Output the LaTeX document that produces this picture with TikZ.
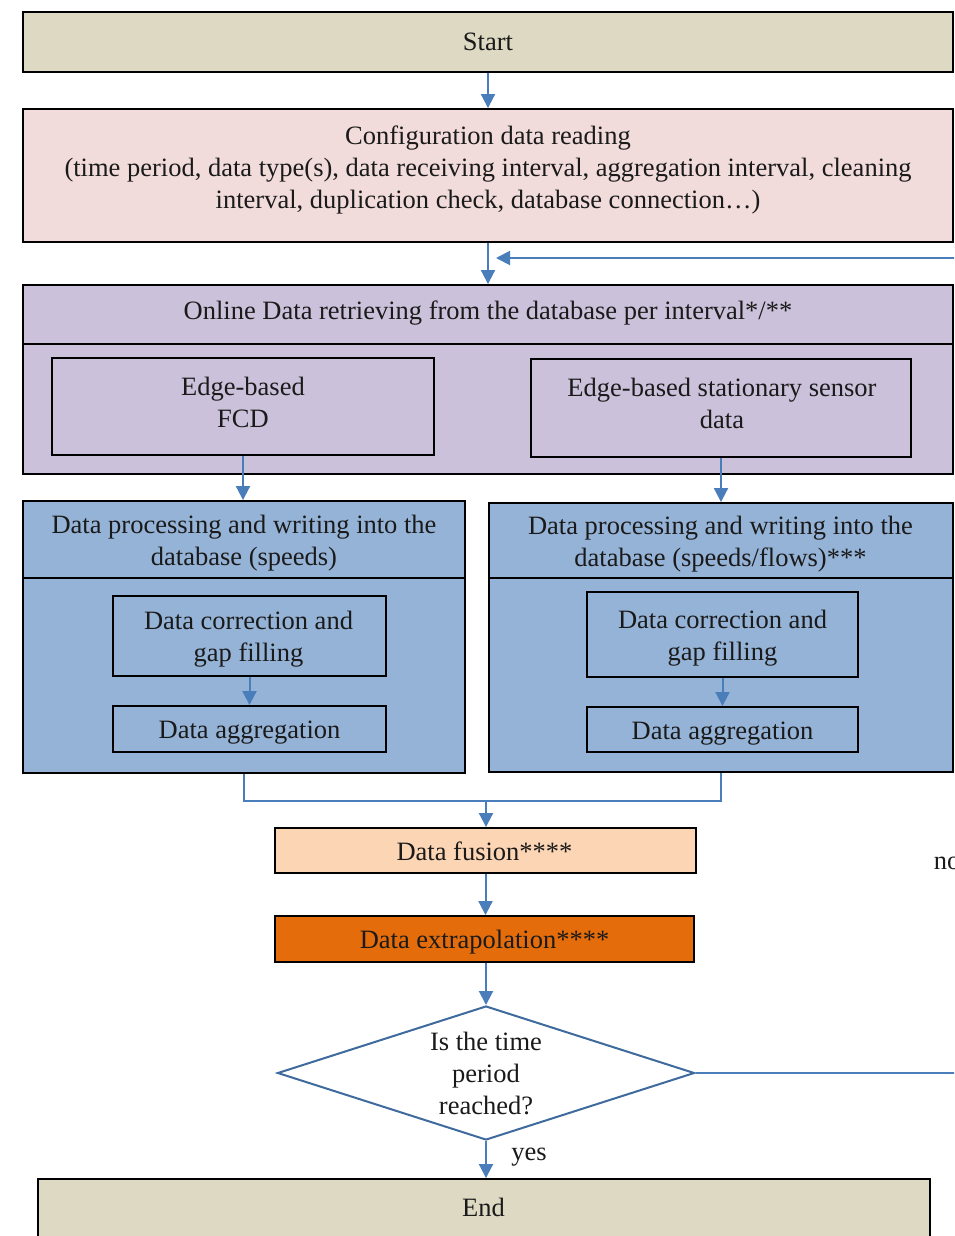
\documentclass[tikz,border=0pt]{standalone}
\usepackage{fontspec}
\setmainfont{Liberation Serif}
\usetikzlibrary{arrows.meta,shapes.geometric}
\definecolor{tanfill}{HTML}{DDD9C3}
\definecolor{pinkfill}{HTML}{F2DCDB}
\definecolor{lilacfill}{HTML}{CCC1DA}
\definecolor{bluefill}{HTML}{95B3D7}
\definecolor{peachfill}{HTML}{FCD5B4}
\definecolor{orangefill}{HTML}{E46C0A}
\definecolor{arrowblue}{HTML}{4A7EBB}
\definecolor{diablue}{HTML}{3E6A9E}
\definecolor{txt}{HTML}{1A1A1A}
\tikzset{
  box/.style={draw=black, line width=1.9pt, rectangle, inner sep=0pt},
  arr/.style={draw=arrowblue, line width=2pt, -{Triangle[width=14pt,length=14pt]}},
  link/.style={draw=arrowblue, line width=2pt},
  lbl/.style={inner sep=0pt, font=\fontsize{26.5}{32}\selectfont, text=txt, align=center}
}
\begin{document}
\begin{tikzpicture}[x=1pt,y=-1pt]
\useasboundingbox (0,0) rectangle (954,1236);
\clip (0,0) rectangle (954,1236);

% boxes
\node[box, fill=tanfill, minimum width=930pt, minimum height=60pt] (start) at (488,42) {};
\node[box, fill=pinkfill, minimum width=930pt, minimum height=133pt] (config) at (488,175.5) {};
\node[box, fill=lilacfill, minimum width=930pt, minimum height=59pt] (onlinehead) at (488,314.5) {};
\node[box, fill=lilacfill, minimum width=930pt, minimum height=130pt] (onlinebody) at (488,409) {};
\node[box, fill=lilacfill, minimum width=382pt, minimum height=97pt] (fcd) at (243,406.5) {};
\node[box, fill=lilacfill, minimum width=380pt, minimum height=98pt] (sensor) at (721,408) {};
\node[box, fill=bluefill, minimum width=442pt, minimum height=77pt] (lhead) at (244,539.5) {};
\node[box, fill=bluefill, minimum width=442pt, minimum height=195pt] (lbody) at (244,675.5) {};
\node[box, fill=bluefill, minimum width=273pt, minimum height=80pt] (lcorr) at (249.5,636) {};
\node[box, fill=bluefill, minimum width=273pt, minimum height=46pt] (lagg) at (249.5,729) {};
\node[box, fill=bluefill, minimum width=464pt, minimum height=75pt] (rhead) at (721,540.5) {};
\node[box, fill=bluefill, minimum width=464pt, minimum height=194pt] (rbody) at (721,675) {};
\node[box, fill=bluefill, minimum width=271pt, minimum height=85pt] (rcorr) at (722.5,634.5) {};
\node[box, fill=bluefill, minimum width=271pt, minimum height=45pt] (ragg) at (722.5,729.5) {};
\node[box, fill=peachfill, minimum width=421pt, minimum height=45pt] (fusion) at (485.5,850.5) {};
\node[box, fill=orangefill, minimum width=419pt, minimum height=46pt] (extrap) at (484.5,939) {};
\node[diamond, draw=diablue, line width=2pt, fill=white, minimum width=417pt, minimum height=134pt, inner sep=0pt] (dia) at (486,1073) {};
\node[box, fill=tanfill, minimum width=892pt, minimum height=60pt] (endbox) at (484,1209) {};

% texts
\node[lbl] (start-t) at (488,42) {Start};
\node[lbl] (config-t) at (488,169.5) {Configuration data reading\\(time period, data type(s), data receiving interval, aggregation interval, cleaning\\interval, duplication check, database connection\dots)};
\node[lbl] (onlinehead-t) at (488,313.5) {Online Data retrieving from the database per interval*/**};
\node[lbl] (fcd-t) at (243,402.5) {Edge-based\\FCD};
\node[lbl] (sensor-t) at (722,403) {Edge-based stationary sensor\\data};
\node[lbl] (lhead-t) at (244,543) {Data processing and writing into the\\database (speeds)};
\node[lbl] (rhead-t) at (720.5,544.5) {Data processing and writing into the\\database (speeds/flows)***};
\node[lbl] (lcorr-t) at (248.5,639.5) {Data correction and\\gap filling};
\node[lbl] (rcorr-t) at (722.5,638.5) {Data correction and\\gap filling};
\node[lbl] (lagg-t) at (249.5,733) {Data aggregation};
\node[lbl] (ragg-t) at (722.5,733.5) {Data aggregation};
\node[lbl] (fusion-t) at (484.5,851.5) {Data fusion****};
\node[lbl] (extrap-t) at (484.5,942.5) {Data extrapolation****};
\node[lbl] (dia-t) at (486,1073) {Is the time\\period\\reached?};
\node[lbl] (end-t) at (483.5,1207) {End};
\node[lbl] (yes) at (529,1157) {yes};
\node[lbl] (no) at (947,863) {no};

\coordinate (merge) at (486,801);
\coordinate (fb1) at (965,1073);
\coordinate (fb2) at (965,258);
\coordinate (fbend) at (496,258);

% connectors
\draw[arr] (start.south) -- (config.north);
\draw[arr] (config.south) -- (onlinehead.north);
\draw[arr] (dia.east) -- (fb1) -- (fb2) -- (fbend);
\draw[arr] (fcd.south) -- (fcd.south |- lhead.north);
\draw[arr] (sensor.south) -- (sensor.south |- rhead.north);
\draw[arr] (lcorr.south) -- (lagg.north);
\draw[arr] (rcorr.south) -- (ragg.north);
\draw[link] (lbody.south) |- (merge);
\draw[link] (rbody.south) |- (merge);
\draw[arr] (merge) -- (merge |- fusion.north);
\draw[arr] (fusion.south) -- (fusion.south |- extrap.north);
\draw[arr] (dia.north |- extrap.south) -- (dia.north);
\draw[arr] (dia.south) -- (dia.south |- endbox.north);
\end{tikzpicture}
\end{document}
